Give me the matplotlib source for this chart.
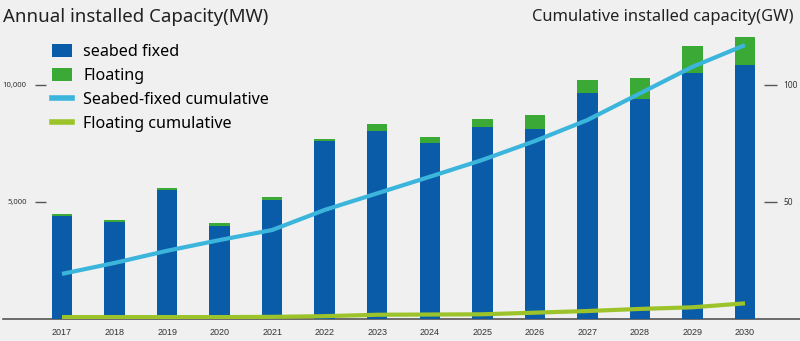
import numpy as np
import matplotlib
matplotlib.use("Agg")
import matplotlib.pyplot as plt
from matplotlib.patches import Patch
from matplotlib.lines import Line2D
from matplotlib.ticker import FuncFormatter

# Offshore wind outlook 2017-2030
years = [2017, 2018, 2019, 2020, 2021, 2022, 2023, 2024, 2025, 2026, 2027, 2028, 2029, 2030]
seabed_fixed = [4390, 4130, 5490, 3975, 5090, 7590, 8030, 7500, 8215, 8130, 9645, 9415, 10525, 10855]  # MW
floating = [85, 90, 100, 105, 100, 85, 285, 260, 330, 570, 570, 870, 1145, 1215]  # MW
fixed_cum = [19.1, 23.8, 29.0, 33.6, 37.9, 46.5, 53.6, 60.7, 67.9, 76.0, 85.0, 96.4, 107.8, 117.1]  # GW
floating_cum = [0.6, 0.6, 0.6, 0.6, 0.7, 1.0, 1.6, 1.7, 1.8, 2.5, 3.2, 4.1, 4.8, 6.5]  # GW

left_ticks = [5000, 10000]
right_ticks = [50, 100]

BG = "#f0f0f0"
BLUE = "#0a5ca8"
GREEN = "#3aa935"
CYAN = "#3bb5dc"
LIME = "#9cc42a"
GRAY = "#555555"

plt.rcParams["font.family"] = ["Noto Sans", "DejaVu Sans"]

W, H = 800, 341
fig = plt.figure(figsize=(W / 100, H / 100), dpi=100, facecolor=BG)

# axes box in pixels: left 46, right 764, bottom 318.5, top 20
x0, x1, yb, yt = 46, 764, 318.5, 20
ax = fig.add_axes([x0 / W, (H - yb) / H, (x1 - x0) / W, (yb - yt) / H])
ax.set_facecolor(BG)

x = np.arange(len(years))
step = 52.54
ax.set_xlim((x0 - 62) / step, (x1 - 62) / step)
ymax = (yb - yt) / 0.02335
ax.set_ylim(0, ymax)

ax.bar(x, seabed_fixed, width=0.39, color=BLUE, zorder=2)
ax.bar(x, floating, width=0.39, bottom=seabed_fixed, color=GREEN, zorder=2)

for s in ax.spines.values():
    s.set_visible(False)
ax.axhline(0, xmin=(3 - x0) / (x1 - x0), xmax=(800 - x0) / (x1 - x0),
           color=GRAY, lw=1.2, clip_on=False, zorder=1)

ax.set_xticks(x)
ax.set_xticklabels([str(y) for y in years], family="Liberation Sans",
                   fontsize=6.5, color="#333333")
ax.tick_params(axis="x", length=0, pad=7)
ax.set_yticks(left_ticks)
ax.yaxis.set_major_formatter(FuncFormatter(lambda v, p: f"{int(v):,}"))
ax.tick_params(axis="y", length=8, width=1, color=GRAY, pad=6,
               labelsize=5.5, labelcolor="#333333")

ax2 = ax.twinx()
ax2.set_ylim(0, ymax / 100)
for s in ax2.spines.values():
    s.set_visible(False)
ax2.plot(x, fixed_cum, color=CYAN, lw=3, solid_capstyle="butt", zorder=3)
ax2.plot(x, floating_cum, color=LIME, lw=3, solid_capstyle="butt", zorder=3)
ax2.set_yticks(right_ticks)
ax2.tick_params(axis="y", length=9, width=1, color=GRAY, pad=5,
                labelsize=6, labelcolor="#333333")

fig.text(3 / W, 1 - 17 / H, "Annual installed Capacity(MW)", fontsize=13.4,
         color="#222222", va="center", ha="left")
fig.text(794 / W, 1 - 17 / H, "Cumulative installed capacity(GW)", fontsize=11.9,
         color="#222222", va="center", ha="right")

handles = [Patch(facecolor=BLUE), Patch(facecolor=GREEN),
           Line2D([], [], color=CYAN, lw=4), Line2D([], [], color=LIME, lw=4)]
labels = ["seabed fixed", "Floating", "Seabed-fixed cumulative", "Floating cumulative"]
fig.legend(handles, labels, loc="upper left", bbox_to_anchor=(52 / W, 1 - 44 / H),
           frameon=False, fontsize=11.6, handlelength=1.25, handleheight=0.8,
           handletextpad=0.7, labelspacing=0.5, borderaxespad=0, borderpad=0)

fig.savefig("out.png", dpi=100, facecolor=BG)
